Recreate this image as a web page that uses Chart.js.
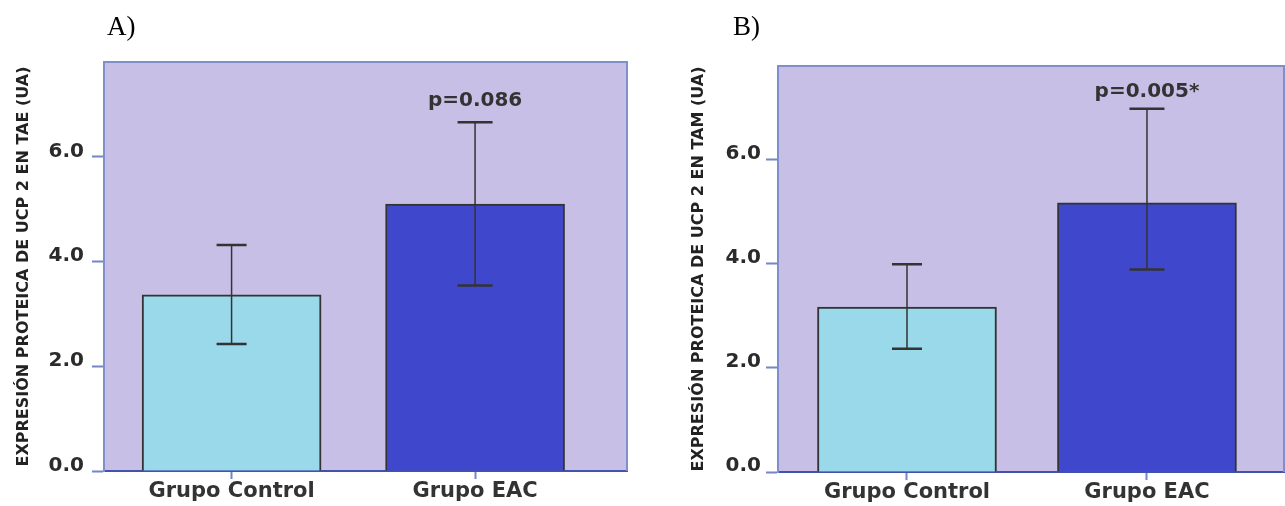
<!DOCTYPE html>
<html>
<head>
<meta charset="utf-8">
<script src="https://cdn.jsdelivr.net/npm/chart.js@4"></script>
<style>
  body { margin: 0; background: #fff; width: 1285px; height: 506px; overflow: hidden; position: relative; }
  .panel { position: absolute; top: 0; width: 640px; height: 506px; }
  .tag { position: absolute; font-family: "Liberation Serif", serif; font-size: 27px; color: #000; line-height: 1; }
</style>
</head>
<body>
<div class="panel" style="left:0"><canvas id="chartA" width="640" height="506"></canvas></div>
<div class="panel" style="left:645px"><canvas id="chartB" width="640" height="506"></canvas></div>
<div class="tag" style="left:107px;top:13px">A)</div>
<div class="tag" style="left:733px;top:13px">B)</div>
<script>
const categories = ['Grupo Control', 'Grupo EAC'];
const yTickValues = [0, 2, 4, 6];
const taeMeans = [3.36, 5.09];
const taeLow = [2.42, 3.54];
const taeHigh = [4.31, 6.65];
const tamMeans = [3.17, 5.17];
const tamLow = [2.37, 3.89];
const tamHigh = [3.99, 6.98];
const taeP = 'p=0.086';
const tamP = 'p=0.005*';
const barColors = ['#99d9ea', '#3f48cc'];

const boldFont = (size) => ({ family: '"DejaVu Sans", sans-serif', weight: 'bold', size: size });

// lavender plot area with a thin blue frame
const frame = {
  id: 'frame',
  beforeDraw(chart) {
    const a = chart.chartArea, ctx = chart.ctx;
    ctx.save();
    ctx.fillStyle = '#c8bfe7';
    ctx.fillRect(a.left, a.top, a.right - a.left, a.bottom - a.top);
    ctx.restore();
  },
  afterDraw(chart) {
    const a = chart.chartArea, ctx = chart.ctx;
    ctx.save();
    ctx.strokeStyle = '#7f8fca';
    ctx.lineWidth = 2;
    ctx.beginPath();
    ctx.moveTo(a.left, a.top);
    ctx.lineTo(a.right, a.top);
    ctx.lineTo(a.right, a.bottom);
    ctx.stroke();
    ctx.restore();
  }
};

// error bars + p value over the last bar
const errorBars = {
  id: 'errorBars',
  afterDatasetsDraw(chart, args, opts) {
    const x = chart.scales.x, y = chart.scales.y, ctx = chart.ctx;
    ctx.save();
    ctx.strokeStyle = '#333';
    opts.low.forEach((lo, i) => {
      const px = x.getPixelForValue(i);
      const yl = y.getPixelForValue(lo);
      const yh = y.getPixelForValue(opts.high[i]);
      const half = opts.cap[i] / 2;
      ctx.lineWidth = 1.5;
      ctx.beginPath();
      ctx.moveTo(px, yl);
      ctx.lineTo(px, yh);
      ctx.stroke();
      ctx.lineWidth = 2.5;
      ctx.beginPath();
      ctx.moveTo(px - half, yl); ctx.lineTo(px + half, yl);
      ctx.moveTo(px - half, yh); ctx.lineTo(px + half, yh);
      ctx.stroke();
    });
    const last = opts.high.length - 1;
    ctx.fillStyle = '#333';
    ctx.font = 'bold 20px "DejaVu Sans"';
    ctx.textAlign = 'center';
    ctx.textBaseline = 'alphabetic';
    ctx.fillText(opts.label, x.getPixelForValue(last), y.getPixelForValue(opts.high[last]) - opts.gap);
    ctx.restore();
  }
};

function makeChart(id, means, low, high, pLabel, yTitle, cfg) {
  new Chart(document.getElementById(id), {
    type: 'bar',
    data: {
      datasets: [{
        data: means.map((v, i) => ({ x: i, y: v })),
        backgroundColor: barColors,
        borderColor: '#333',
        borderWidth: 2,
        barThickness: cfg.barWidth
      }]
    },
    options: {
      responsive: false,
      animation: false,
      devicePixelRatio: 1,
      layout: { padding: { top: cfg.top, right: cfg.right, left: 0, bottom: 0 } },
      plugins: {
        legend: { display: false },
        tooltip: { enabled: false },
        errorBars: { low: low, high: high, label: pLabel, gap: cfg.gap, cap: [30, 35] }
      },
      scales: {
        x: {
          type: 'linear',
          offset: false,
          min: cfg.xMin,
          max: cfg.xMax,
          afterBuildTicks: (s) => { s.ticks = categories.map((c, i) => ({ value: i })); },
          afterFit: (s) => { s.height = cfg.xHeight; },
          ticks: {
            callback: (v) => categories[v],
            font: boldFont(21),
            color: '#333',
            padding: 0,
            autoSkip: false,
            maxRotation: 0
          },
          grid: { offset: false, drawOnChartArea: false, tickLength: 8, tickColor: '#7585c6', tickWidth: 2 },
          border: { color: '#4153ad', width: 2 }
        },
        y: {
          min: 0,
          max: 7.8,
          afterBuildTicks: (s) => { s.ticks = yTickValues.map(v => ({ value: v })); },
          afterFit: (s) => { s.width = cfg.yWidth; },
          ticks: {
            callback: (v) => v.toFixed(1),
            font: boldFont(20),
            color: '#2b2b2b',
            padding: cfg.tickPad,
            labelOffset: cfg.labelOffset
          },
          grid: { drawOnChartArea: false, tickLength: 12, tickColor: '#7585c6', tickWidth: 2 },
          border: { color: '#7f8fca', width: 2 },
          title: {
            display: true,
            text: yTitle,
            font: boldFont(16),
            color: '#222',
            padding: { top: cfg.titlePad, bottom: 0 }
          }
        }
      }
    },
    plugins: [frame, errorBars]
  });
}

makeChart('chartA', taeMeans, taeLow, taeHigh, taeP, 'EXPRESIÓN PROTEICA DE UCP 2 EN TAE (UA)', {
  xMin: -0.524, xMax: 1.624, top: 62, right: 13, yWidth: 104, xHeight: 35,
  titlePad: 14, tickPad: 8, labelOffset: -5, gap: 16, barWidth: 179
});
makeChart('chartB', tamMeans, tamLow, tamHigh, tamP, 'EXPRESIÓN PROTEICA DE UCP 2 EN TAM (UA)', {
  xMin: -0.5375, xMax: 1.571, top: 66, right: 1, yWidth: 133, xHeight: 34,
  titlePad: 44, tickPad: 5, labelOffset: -6, gap: 12, barWidth: 179
});
</script>
</body>
</html>
